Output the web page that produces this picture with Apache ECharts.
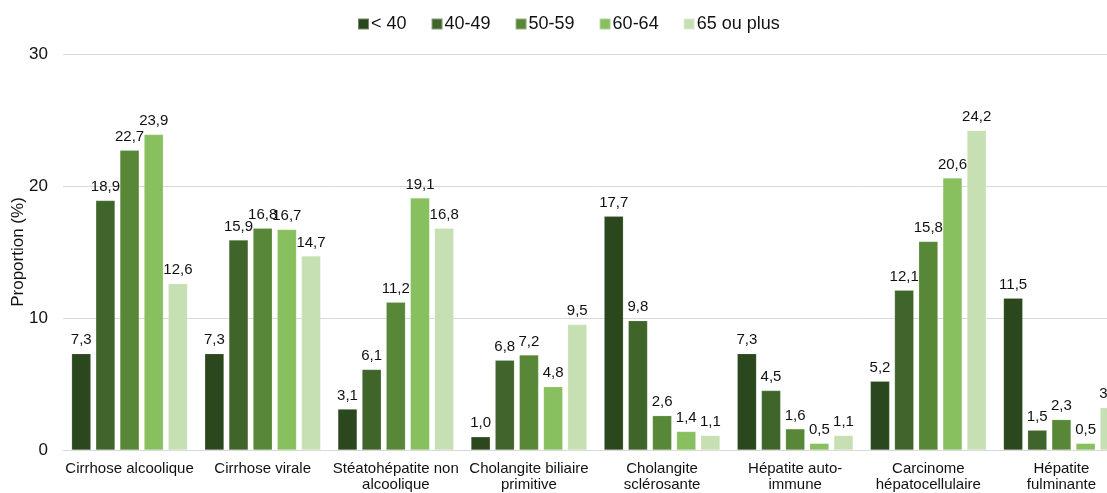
<!DOCTYPE html>
<html>
<head>
<meta charset="utf-8">
<script src="https://cdn.jsdelivr.net/npm/echarts@6/dist/echarts.min.js"></script>
<style>
  html, body { margin: 0; padding: 0; background: #fff; overflow: hidden; }
  #chart { width: 1128px; height: 493px; }
</style>
</head>
<body>
<div id="chart"></div>
<script>
// Categories and series values
const categories = [
  'Cirrhose alcoolique', 'Cirrhose virale', 'Stéatohépatite non\nalcoolique',
  'Cholangite biliaire\nprimitive', 'Cholangite\nsclérosante', 'Hépatite auto-\nimmune',
  'Carcinome\nhépatocellulaire', 'Hépatite\nfulminante'
];
const seriesNames = ['< 40', '40-49', '50-59', '60-64', '65 ou plus'];
const under40 = [7.3, 7.3, 3.1, 1.0, 17.7, 7.3, 5.2, 11.5];
const age40_49 = [18.9, 15.9, 6.1, 6.8, 9.8, 4.5, 12.1, 1.5];
const age50_59 = [22.7, 16.8, 11.2, 7.2, 2.6, 1.6, 15.8, 2.3];
const age60_64 = [23.9, 16.7, 19.1, 4.8, 1.4, 0.5, 20.6, 0.5];
const age65plus = [12.6, 14.7, 16.8, 9.5, 1.1, 1.1, 24.2, 3.2];
const yTicks = [0, 10, 20, 30];

const colors = ['#2b471d', '#3f652b', '#588738', '#88bf5f', '#c6e0b4'];
const values = [under40, age40_49, age50_59, age60_64, age65plus];
const font = 'Liberation Sans, Arial, sans-serif';

// the plot runs a bit past the right edge of the window, as in the original
const chart = echarts.init(document.getElementById('chart'), null, { renderer: 'canvas' });

chart.setOption({
  animation: false,
  backgroundColor: '#fff',
  textStyle: { fontFamily: font },
  legend: {
    top: 10,
    left: 352,
    itemWidth: 11,
    itemHeight: 11,
    itemGap: 24,
    icon: 'rect',
    textStyle: { fontSize: 18, color: '#111', fontFamily: font, padding: [0, 0, 0, -3] },
    data: seriesNames
  },
  grid: { left: 63, right: 0, top: 54, bottom: 43, outerBoundsMode: 'none' },
  xAxis: {
    type: 'category',
    data: categories,
    axisTick: { show: false },
    axisLine: { lineStyle: { color: '#d9d9d9', width: 1 } },
    axisLabel: {
      interval: 0,
      color: '#111',
      fontSize: 15,
      fontFamily: font,
      lineHeight: 16,
      margin: 11
    }
  },
  yAxis: {
    type: 'value',
    min: 0,
    max: 30,
    interval: 10,
    name: 'Proportion (%)',
    nameLocation: 'middle',
    nameGap: 36,
    nameMoveOverlap: false,
    nameRotate: 90,
    nameTextStyle: { color: '#111', fontSize: 17, fontFamily: font },
    axisLabel: {
      color: '#111', fontSize: 17, fontFamily: font, margin: 15,
      formatter: v => yTicks.includes(v) ? String(v) : ''
    },
    splitLine: { lineStyle: { color: '#d9d9d9', width: 1 } },
    axisLine: { show: false },
    axisTick: { show: false }
  },
  series: seriesNames.map((name, i) => ({
    name: name,
    type: 'bar',
    data: values[i],
    barGap: '26%',
    barCategoryGap: '13%',
    itemStyle: { color: colors[i], borderColor: 'rgba(255,255,255,0.35)', borderWidth: 0.5 },
    label: {
      show: true,
      position: 'top',
      distance: 6,
      color: '#111',
      fontSize: 15,
      fontFamily: font,
      formatter: p => p.value.toFixed(1).replace('.', ',')
    }
  }))
});

window.addEventListener('resize', () => chart.resize());
</script>
</body>
</html>
